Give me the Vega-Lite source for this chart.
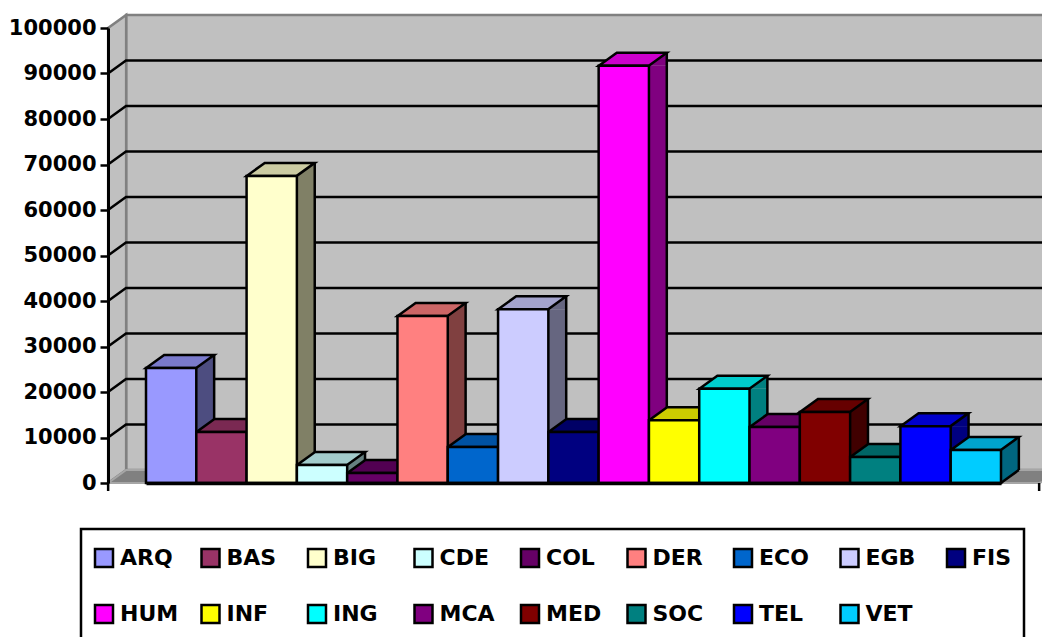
{
"$schema":"https://vega.github.io/schema/vega-lite/v6.json",
"width":931,"height":455,
"autosize":{"type":"none"},
"padding":{"left":108,"top":28,"right":3,"bottom":154},
"background":"white",
"config":{"view":{"stroke":null},
"font":"DejaVu Sans","legend":{"strokeWidth":2.5}},
"datasets":{
"bars":[
{"name":"ARQ","value":25270},{"name":"BAS","value":11200},{"name":"BIG","value":67500},{"name":"CDE","value":3960},{"name":"COL","value":2200},{"name":"DER","value":36700},{"name":"ECO","value":7900},{"name":"EGB","value":38200},{"name":"FIS","value":11200},{"name":"HUM","value":91700},{"name":"INF","value":13800},{"name":"ING","value":20700},{"name":"MCA","value":12300},{"name":"MED","value":15600},{"name":"SOC","value":5700},{"name":"TEL","value":12500},{"name":"VET","value":7250}],
"grid":[{"v":10000},{"v":20000},{"v":30000},{"v":40000},{"v":50000},{"v":60000},{"v":70000},{"v":80000},{"v":90000}],
"wall":[{"low":0,"anchor":"ARQ"}]
},
"layer":[
{"data":{"name":"wall"},"mark":{"type":"point","filled":true,"opacity":1,"size":4,"shape":"M-45,-13L910,-13L910,-468L-45,-468Z","fill":"#C0C0C0","stroke":"#808080","strokeWidth":2.5},
 "encoding":{"x":{"field":"anchor","type":"nominal","scale":{"domain":["ARQ","BAS","BIG","CDE","COL","DER","ECO","EGB","FIS","HUM","INF","ING","MCA","MED","SOC","TEL","VET"],"range":[38,893],"paddingInner":0,"paddingOuter":0},
   "axis":{"title":null,"labels":false,"ticks":false,"domainColor":"black","domainWidth":3.5,"zindex":1}},
  "y":{"field":"low","type":"quantitative","scale":{"domain":[0,100000],"nice":false},
   "axis":{"title":null,"values":[0,10000,20000,30000,40000,50000,60000,70000,80000,90000,100000],"format":"d","grid":false,"domainColor":"black","domainWidth":3,"tickColor":"black","tickWidth":2.5,"tickSize":8,"labelPadding":4,"labelFont":"DejaVu Sans","labelFontWeight":"bold","labelFontSize":21,"labelColor":"black","zindex":1}}}},
{"data":{"name":"wall"},"mark":{"type":"point","filled":true,"opacity":1,"size":4,"shape":"M-63,0L-45,-13L-45,-468L-63,-455Z","fill":"#C0C0C0","stroke":"#808080","strokeWidth":2.5},
 "encoding":{"x":{"field":"anchor","type":"nominal"},"y":{"field":"low","type":"quantitative"}}},
{"data":{"name":"wall"},"mark":{"type":"point","filled":true,"opacity":1,"size":4,"shape":"M-63,0L-45,-13L905,-13L868,0Z","fill":"#808080","stroke":"#A6A6A6","strokeWidth":2},
 "encoding":{"x":{"field":"anchor","type":"nominal"},"y":{"field":"low","type":"quantitative"}}},
{"data":{"name":"wall"},"mark":{"type":"point","filled":false,"opacity":1,"size":4,"shape":"M-63,0L-63,8M868,0L868,8","stroke":"black","strokeWidth":2.5},
 "encoding":{"x":{"field":"anchor","type":"nominal"},"y":{"field":"low","type":"quantitative"}}},
{"data":{"name":"grid"},"mark":{"type":"point","filled":false,"opacity":1,"size":4,"shape":"M0,0L18,-13L960,-13","stroke":"black","strokeWidth":2.5,"xOffset":-465.5},
 "encoding":{"y":{"field":"v","type":"quantitative"}}},
{"data":{"name":"bars"},"mark":{"type":"bar","width":18,"xOffset":34,"x2Offset":34,"y2Offset":-13},
 "encoding":{"x":{"field":"name","type":"nominal"},"y":{"field":"value","type":"quantitative"},"y2":{"datum":0},
  "fill":{"field":"name","type":"nominal","legend":null,"scale":{"range":["#4D4D80","#4D1A33","#808066","#668080","#330033","#804040","#003366","#666680","#000040","#800080","#808000","#008080","#400040","#400000","#004040","#000080","#006680"]}}}},
{"data":{"name":"bars"},"mark":{"type":"point","filled":true,"opacity":1,"size":4,"shape":"M25,0L43,0L43,-13Z"},
 "encoding":{"x":{"field":"name","type":"nominal"},"y":{"field":"value","type":"quantitative"},
  "fill":{"field":"name","type":"nominal","legend":null,"scale":{"range":["#4D4D80","#4D1A33","#808066","#668080","#330033","#804040","#003366","#666680","#000040","#800080","#808000","#008080","#400040","#400000","#004040","#000080","#006680"]}}}},
{"data":{"name":"bars"},"mark":{"type":"point","filled":true,"opacity":1,"size":4,"shape":"M25,-13L25,0L43,-13Z"},
 "encoding":{"x":{"field":"name","type":"nominal"},"y":{"datum":0,"type":"quantitative"},
  "fill":{"field":"name","type":"nominal","legend":null,"scale":{"range":["#4D4D80","#4D1A33","#808066","#668080","#330033","#804040","#003366","#666680","#000040","#800080","#808000","#008080","#400040","#400000","#004040","#000080","#006680"]}}}},
{"data":{"name":"bars"},"mark":{"type":"point","filled":false,"opacity":1,"size":4,"shape":"M25,0L43,-13","stroke":"black","strokeWidth":2.5},
 "encoding":{"x":{"field":"name","type":"nominal"},"y":{"datum":0,"type":"quantitative"}}},
{"data":{"name":"bars"},"mark":{"type":"rule","stroke":"black","strokeWidth":2.5,"xOffset":43,"yOffset":-13,"y2Offset":-13},
 "encoding":{"x":{"field":"name","type":"nominal"},"y":{"field":"value","type":"quantitative"},"y2":{"datum":0}}},
{"data":{"name":"bars"},"mark":{"type":"point","filled":true,"opacity":1,"size":4,"shape":"M-25,0L25,0L43,-13L-7,-13Z","stroke":"black","strokeWidth":2.5},
 "encoding":{"x":{"field":"name","type":"nominal"},"y":{"field":"value","type":"quantitative"},
  "fill":{"field":"name","type":"nominal","legend":null,"scale":{"range":["#7A7ACC","#7A2952","#CCCCA3","#A3CCCC","#520052","#CC6666","#0052A3","#A3A3CC","#000066","#CC00CC","#CCCC00","#00CCCC","#660066","#660000","#006666","#0000CC","#00A3CC"]}}}},
{"data":{"name":"bars"},"mark":{"type":"bar","stroke":"black","strokeWidth":2.5},
 "encoding":{"x":{"field":"name","type":"nominal"},"y":{"field":"value","type":"quantitative"},"y2":{"datum":0},
  "fill":{"field":"name","type":"nominal","scale":{"range":["#9999FF","#993366","#FFFFCC","#CCFFFF","#660066","#FF8080","#0066CC","#CCCCFF","#000080","#FF00FF","#FFFF00","#00FFFF","#800080","#800000","#008080","#0000FF","#00CCFF"]},
   "legend":{"title":" ","titleFontSize":6,"titlePadding":0,"orient":"none","direction":"horizontal","legendX":-27,"legendY":501,"columns":9,"padding":12,"fillColor":"white","strokeColor":"black","symbolType":"square","symbolSize":324,"symbolStrokeColor":"black","symbolStrokeWidth":2.5,"labelFont":"DejaVu Sans","labelFontWeight":"bold","labelFontSize":22,"labelColor":"black","labelOffset":5,"labelExpr":"datum.label == 'FIS' ? 'FIS\u00a0\u00a0' : datum.label","columnPadding":17.5,"rowPadding":28,"gridAlign":"all","labelLimit":200}}}}
],
"resolve":{"scale":{"fill":"independent"}}
}
